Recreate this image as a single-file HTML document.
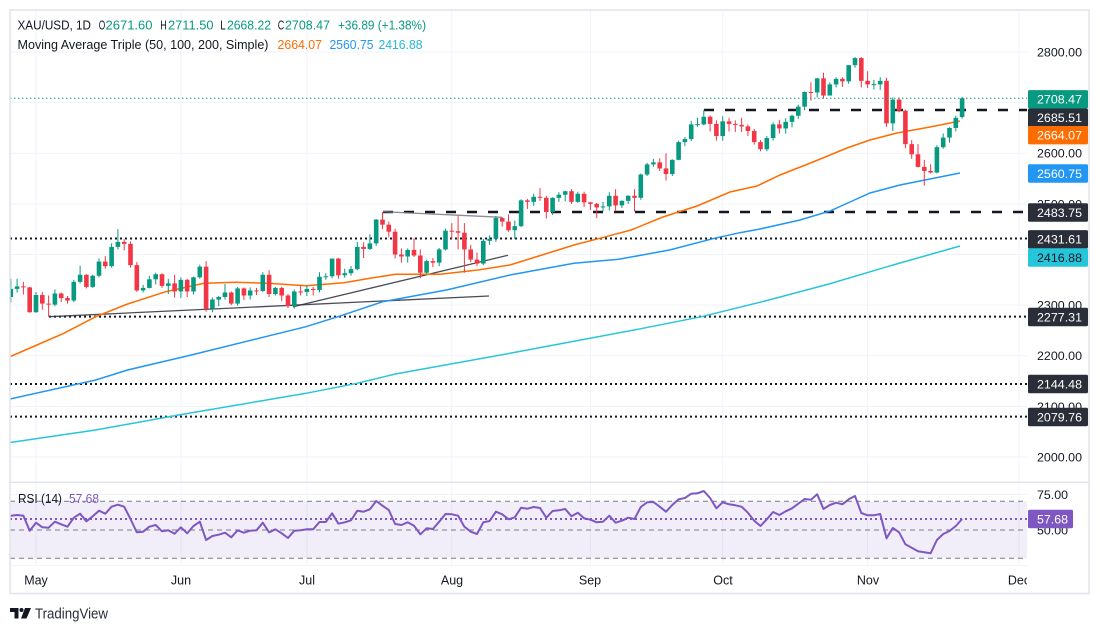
<!DOCTYPE html>
<html><head><meta charset="utf-8">
<style>
html,body{margin:0;padding:0;background:#fff;width:1100px;height:632px;overflow:hidden}
svg{display:block;font-family:"Liberation Sans",Arial,sans-serif}
</style></head><body>
<svg id="svg" width="1100" height="632" viewBox="0 0 1100 632" xmlns="http://www.w3.org/2000/svg">
<defs>
<clipPath id="pane"><rect x="10" y="10" width="1017" height="556"/></clipPath>
<clipPath id="taxis"><rect x="10" y="566" width="1017" height="27"/></clipPath>
</defs>
<rect x="0" y="0" width="1100" height="632" fill="#fff"/>
<g id="grid" stroke="#f0f3fa" stroke-width="1"></g>
<line x1="10" y1="482.3" x2="1089" y2="482.3" stroke="#e0e3eb" stroke-width="1.3"/>
<!-- RSI band -->
<rect x="10" y="501.3" width="1017" height="57" fill="#7e57c2" fill-opacity="0.1"/>
<g stroke="#787b86" stroke-width="1" stroke-dasharray="5 4">
<line x1="10" y1="501.3" x2="1027" y2="501.3"/>
<line x1="10" y1="530" x2="1027" y2="530"/>
<line x1="10" y1="558.3" x2="1027" y2="558.3"/>
</g>
<g clip-path="url(#pane)">
<!-- dotted horizontal levels -->
<g stroke="#131722" stroke-width="2" stroke-dasharray="2 3">
<line x1="10" y1="238.5" x2="1027" y2="238.5"/>
<line x1="49" y1="316.6" x2="1027" y2="316.6"/>
<line x1="10" y1="384" x2="1027" y2="384"/>
<line x1="10" y1="416.6" x2="1027" y2="416.6"/>
</g>
<!-- dashed levels -->
<g stroke="#131722" stroke-width="2.4" stroke-dasharray="10 11">
<line x1="704" y1="110" x2="1027" y2="110"/>
<line x1="383" y1="212" x2="1027" y2="212"/>
</g>
<!-- trendlines -->
<g stroke="#2a2e39" stroke-width="1.3" stroke-opacity="0.85">
<line x1="49" y1="316.7" x2="489" y2="296"/>
<line x1="293" y1="306.7" x2="508" y2="255.3"/>
<line x1="383" y1="211.7" x2="502" y2="217.3" stroke="#787b86"/>
</g>
<!-- MAs -->
<polyline fill="none" stroke="#26c6da" stroke-width="1.5" points="10,442.5 95.7,430 178.6,415 306,393.3 357,383.3 395.4,374 510,353.3 637.8,329.3 701.5,316.7 765,301 829,284 893,265 960,246"/>
<polyline fill="none" stroke="#2196f3" stroke-width="1.5" points="10,399 95.7,380 127.6,370 191.3,355 306,326.7 338,316.7 382.7,301.7 446.4,290 510,275 574,263.3 618.6,259.3 669.6,250 714.3,238.3 739.8,232.7 760,229 800,220 830,211 850,202 870,193 900,185 930,179 960,173"/>
<polyline fill="none" stroke="#ff6d00" stroke-width="1.5" points="10,356.7 30,348 63.8,333.3 95.7,316.7 127.6,304 165.8,291.7 204,283.3 236,282.3 267.9,283.3 306,285.7 344,282.7 370,278.3 395.4,274.3 440,274.3 478,270 510,265 542,255 574,245 606,236.7 631,230 663,217 697,206 730,192 757,186 780,175 813,162 847,148 870,140 897,133 930,127 960,121"/>
<g id="cd"></g>
<!-- price line -->
<line x1="10" y1="98.3" x2="1027" y2="98.3" stroke="#089981" stroke-width="1" stroke-dasharray="1.5 2.5"/>
<!-- RSI -->
<line x1="10" y1="519" x2="1027" y2="519" stroke="#7e57c2" stroke-width="2" stroke-dasharray="2 3"/>
<polyline id="rsi" fill="none" stroke="#7e57c2" stroke-width="2" stroke-linejoin="round"/>
</g>
<!-- frame -->
<rect x="10" y="10" width="1079" height="583.5" fill="none" stroke="#e0e3eb" stroke-width="1.5"/>
<!-- legend -->
<g font-size="12.5" fill="#131722">
<text x="17.5" y="29.5" textLength="73.5" lengthAdjust="spacingAndGlyphs">XAU/USD, 1D</text>
<text x="98.8" y="29.5" textLength="6.5" lengthAdjust="spacingAndGlyphs">O</text><text x="105.5" y="29.5" fill="#089981" textLength="47" lengthAdjust="spacingAndGlyphs">2671.60</text>
<text x="160.3" y="29.5" textLength="6.5" lengthAdjust="spacingAndGlyphs">H</text><text x="168" y="29.5" fill="#089981" textLength="45.5" lengthAdjust="spacingAndGlyphs">2711.50</text>
<text x="220.3" y="29.5" textLength="5.5" lengthAdjust="spacingAndGlyphs">L</text><text x="227" y="29.5" fill="#089981" textLength="44" lengthAdjust="spacingAndGlyphs">2668.22</text>
<text x="277.8" y="29.5" textLength="6.5" lengthAdjust="spacingAndGlyphs">C</text><text x="285" y="29.5" fill="#089981" textLength="45" lengthAdjust="spacingAndGlyphs">2708.47</text>
<text x="338" y="29.5" fill="#089981" textLength="88" lengthAdjust="spacingAndGlyphs">+36.89 (+1.38%)</text>
<text x="17.5" y="48.8" textLength="251" lengthAdjust="spacingAndGlyphs">Moving Average Triple (50, 100, 200, Simple)</text>
<text x="277.5" y="48.8" fill="#ff6d00" textLength="44.5" lengthAdjust="spacingAndGlyphs">2664.07</text>
<text x="329.5" y="48.8" fill="#2196f3" textLength="44" lengthAdjust="spacingAndGlyphs">2560.75</text>
<text x="378.5" y="48.8" fill="#22b8d4" textLength="44" lengthAdjust="spacingAndGlyphs">2416.88</text>
<text x="18" y="503" textLength="44" lengthAdjust="spacingAndGlyphs">RSI (14)</text>
<text x="69" y="503" fill="#7e57c2" textLength="30" lengthAdjust="spacingAndGlyphs">57.68</text>
</g>
<!-- axis labels -->
<g id="ax" font-size="12.4" fill="#131722"></g>
<g id="boxes" font-size="12.4"></g>
<g clip-path="url(#taxis)" font-size="12.5" fill="#131722" text-anchor="middle">
<text x="36" y="584.5">May</text>
<text x="181" y="584.5">Jun</text>
<text x="307" y="584.5">Jul</text>
<text x="452" y="584.5">Aug</text>
<text x="590" y="584.5">Sep</text>
<text x="723" y="584.5">Oct</text>
<text x="868" y="584.5">Nov</text>
<text x="1019" y="584.5">Dec</text>
</g>
<!-- logo -->
<g fill="#131722">
<path d="M10 608 h8.5 v10.5 h-4 v-6.5 h-4.5 z"/>
<circle cx="21.5" cy="610" r="2"/>
<path d="M25 608 h6 l-4.5 10.5 h-5.5 z"/>
<text x="35" y="618.5" font-size="14.5" fill="#2a2e39" textLength="73" lengthAdjust="spacingAndGlyphs">TradingView</text>
</g>
</svg>
<script>
(function(){
var D=[[2316,2352,2305,2332],[2332,2352,2325,2337],[2337,2346,2321,2335],[2335,2336,2285,2286],
[2286,2326,2285,2320],[2320,2326,2291,2303],[2303,2319,2277,2301],[2301,2331,2298,2323],[2323,2325,2306,2314],
[2314,2318,2303,2309],[2309,2350,2306,2346],[2346,2378,2343,2360],[2360,2361,2333,2336],[2336,2360,2334,2358],
[2358,2392,2355,2386],[2386,2397,2372,2377],[2377,2422,2374,2415],[2415,2450,2410,2425],[2425,2430,2408,2421],
[2421,2426,2374,2379],[2379,2385,2326,2329],[2329,2340,2325,2334],[2334,2358,2333,2351],[2351,2364,2341,2361],
[2361,2363,2334,2338],[2338,2352,2322,2343],[2343,2360,2315,2327],[2327,2355,2314,2350],[2350,2352,2316,2327],
[2327,2356,2321,2355],[2355,2380,2352,2376],[2376,2387,2287,2293],[2293,2315,2286,2311],[2311,2318,2298,2316],
[2316,2342,2311,2325],[2325,2327,2300,2303],[2303,2336,2299,2333],[2333,2335,2310,2319],[2319,2335,2311,2329],
[2329,2334,2320,2328],[2328,2365,2326,2360],[2360,2369,2316,2322],[2322,2336,2319,2334],[2334,2336,2308,2319],
[2319,2322,2294,2298],[2298,2331,2293,2327],[2327,2339,2319,2326],[2326,2339,2318,2332],[2332,2336,2319,2330],
[2330,2365,2325,2356],[2356,2363,2350,2357],[2357,2392,2353,2392],[2392,2393,2352,2359],[2359,2372,2354,2363],
[2363,2377,2358,2371],[2371,2425,2369,2415],[2415,2424,2393,2411],[2411,2440,2409,2422],[2422,2470,2417,2469],
[2469,2483.75,2450,2459],[2459,2465,2434,2445],[2445,2451,2392,2400],[2400,2412,2384,2396],[2396,2412,2384,2409],
[2409,2432,2395,2398],[2398,2410,2353,2364],[2364,2390,2362,2387],[2387,2393,2375,2384],[2384,2413,2377,2410],
[2410,2451,2408,2447],[2447,2462,2431,2446],[2446,2477,2410,2443],[2443,2462,2364,2410],[2410,2419,2385,2390],
[2390,2404,2377,2382],[2382,2431,2379,2427],[2427,2438,2419,2431],[2431,2476,2425,2472],[2472,2474,2455,2465],
[2465,2479,2445,2448],[2448,2467,2431,2456],[2456,2509,2454,2507],[2507,2510,2490,2504],[2504,2520,2496,2514],
[2514,2531,2506,2512],[2512,2516,2471,2484],[2484,2513,2478,2512],[2512,2523,2504,2518],[2518,2526,2505,2525],
[2525,2529,2500,2504],[2504,2524,2502,2520],[2520,2524,2494,2503],[2503,2504,2488,2500],[2500,2502,2472,2493],
[2493,2504,2485,2495],[2495,2523,2487,2516],[2516,2529,2485,2497],[2497,2507,2492,2506],[2506,2517,2500,2516],
[2516,2529,2485,2512],[2512,2560,2508,2558],[2558,2581,2555,2578],[2578,2589,2573,2582],[2582,2590,2565,2570],
[2570,2600,2546,2559],[2559,2588,2555,2587],[2587,2625,2586,2622],[2622,2632,2614,2628],[2628,2664,2624,2657],
[2657,2670,2652,2657.5],[2657,2685.51,2655,2672],[2672,2675,2643,2658],[2658,2665,2625,2634],[2634,2673,2625,2663],
[2663,2670,2643,2658],[2658,2665,2642,2656],[2656,2670,2642,2653],[2653,2657,2634,2644],[2644,2648,2617,2622],
[2622,2626,2604,2608],[2608,2634,2604,2630],[2630,2661,2625,2657],[2657,2666,2639,2649],[2649,2669,2639,2662],
[2662,2676,2651,2674],[2674,2696,2668,2692],[2692,2722,2685,2721],[2721,2740,2704,2720],[2720,2749,2710,2748],
[2748,2759,2708,2714],[2714,2740,2714,2736],[2736,2750,2730,2747],[2747,2750,2731,2742],[2742,2774,2737,2774],
[2774,2790,2769,2788],[2788,2790,2730,2743],[2743,2762,2729,2736],[2736,2745,2726,2736.5],[2736,2750,2725,2743],
[2743,2749,2652,2659],[2659,2710,2644,2706],[2706,2710,2681,2684],[2684,2686,2610,2618],[2618,2626,2589,2598],
[2598,2618,2572,2573],[2573,2587,2536,2565],[2565,2578,2560,2562],[2562,2616,2560,2612],[2612,2639,2609,2631],
[2631,2651,2621,2650],[2650,2674,2643,2670],[2671.6,2711.5,2668.22,2708.47]];
function Y(p){return 457-(p-2000)*0.50625;}
var s='';
for(var k=0;k<D.length;k++){
 var i=k-4,x=36+i*6.3,o=D[k][0],h=D[k][1],l=D[k][2],c=D[k][3];
 var col=c>=o?'#089981':'#f23645';
 var t=Y(Math.max(o,c)),b=Y(Math.min(o,c)),hh=Math.max(1,b-t);
 s+='<line x1="'+x.toFixed(2)+'" x2="'+x.toFixed(2)+'" y1="'+Y(h).toFixed(2)+'" y2="'+Y(l).toFixed(2)+'" stroke="'+col+'" stroke-width="1"/>';
 s+='<rect x="'+(x-2.3).toFixed(2)+'" y="'+t.toFixed(2)+'" width="4.6" height="'+hh.toFixed(2)+'" fill="'+col+'"/>';
}
document.getElementById('cd').innerHTML=s;

var R=[515.7,515,515.7,530.7,522.7,527.3,527.7,521.7,524.3,526.7,517.7,513.7,521.3,516.3,510.7,513.7,506.7,504.7,506.7,519,532.3,531.7,526.7,525,531.3,530.3,533.7,527.3,533.3,526,521.7,540,536,534.7,532.7,537.3,530.3,532.7,530.7,530.3,522.7,532.3,529.3,533.3,538,530.7,530.3,529.3,529.3,522,522,513.3,523.7,522.3,520.3,
510.7,511.7,509.3,501,505.7,510,524,525,522.3,525.7,534.3,528.3,529,521.7,514,514.3,515.7,526.7,531.7,534,522.3,521,511.7,514.3,519.3,517.3,507.7,508.7,507,508,517.7,511,510.3,509,516.3,512.7,518.3,519.7,522.3,
521.7,515.7,522.7,520.7,517.7,519,507,502.3,502,506.7,511.7,505,499.3,498,493.7,493.3,491,498,508.3,502.3,504.3,505.3,506.7,512.7,520.7,526,519.3,512,515,511.3,508.3,503.7,499,499.7,494.3,509,505,502.7,504.3,499.3,496,513,515.3,515.3,514,538.3,528,532.3,544.3,547.7,551.3,552.3,553.3,540,534,531,526,519];
var p='10,516 ';
for(var j=0;j<R.length;j++){p+=(36+(j-4)*6.3).toFixed(2)+','+R[j]+' ';}
document.getElementById('rsi').setAttribute('points',p);

var g='';
[52,102.6,153.25,203.9,254.5,305.1,355.75,406.4,457,494.4,565.6].forEach(function(y){g+='<line x1="10" y1="'+y+'" x2="1027" y2="'+y+'"/>';});
[36,181,307,451.8,590.4,722.7,867.6,1019].forEach(function(x){g+='<line x1="'+x+'" y1="10" x2="'+x+'" y2="566"/>';});
document.getElementById('grid').innerHTML=g;

var a='';
[['2800.00',52],['2700.00',102.6],['2600.00',153.25],['2500.00',203.9],['2400.00',254.5],['2300.00',305.1],['2200.00',355.75],['2100.00',406.4],['2000.00',457]].forEach(function(v){
 a+='<text x="1037" y="'+(v[1]+4.4)+'" textLength="45" lengthAdjust="spacingAndGlyphs">'+v[0]+'</text>';});
a+='<text x="1037" y="'+(494.4+4.4)+'" textLength="31" lengthAdjust="spacingAndGlyphs">75.00</text>';
a+='<text x="1037" y="'+(530+4.4)+'" textLength="31" lengthAdjust="spacingAndGlyphs">50.00</text>';
document.getElementById('ax').innerHTML=a;

var B=[[99.3,'2708.47','#089981','#fff'],[117.7,'2685.51','#2a2e39','#fff'],[135.2,'2664.07','#ff6d00','#fff'],
[173.5,'2560.75','#2196f3','#fff'],[212.5,'2483.75','#2a2e39','#fff'],[239.3,'2431.61','#2a2e39','#fff'],
[257.5,'2416.88','#26c6da','#131722'],[317,'2277.31','#2a2e39','#fff'],[384,'2144.48','#2a2e39','#fff'],
[417,'2079.76','#2a2e39','#fff']];
var bb='';
B.forEach(function(v){
 bb+='<rect x="1028" y="'+(v[0]-9.2)+'" width="60" height="18.4" rx="1.5" fill="'+v[2]+'"/>';
 bb+='<text x="1037" y="'+(v[0]+4.4)+'" fill="'+v[3]+'" textLength="45" lengthAdjust="spacingAndGlyphs">'+v[1]+'</text>';
});
bb+='<rect x="1028" y="509.8" width="45" height="18.4" rx="1.5" fill="#7e57c2"/>';
bb+='<text x="1037" y="523.4" fill="#fff" textLength="31" lengthAdjust="spacingAndGlyphs">57.68</text>';
document.getElementById('boxes').innerHTML=bb;
})();
</script>
</body></html>
